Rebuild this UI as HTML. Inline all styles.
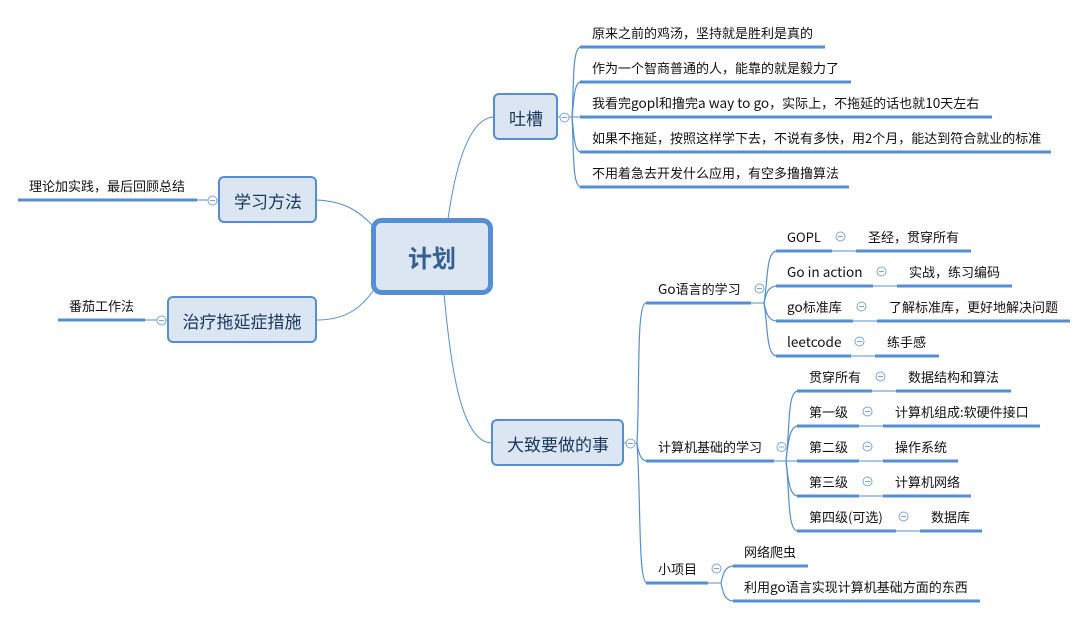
<!DOCTYPE html>
<html lang="zh">
<head>
<meta charset="utf-8">
<title>计划</title>
<style>
html,body{margin:0;padding:0;background:#fff;width:1087px;height:618px;overflow:hidden}
svg{display:block}
text{font-family:"Noto Sans CJK SC","Liberation Sans",sans-serif;font-size:13px;fill:#111}
tspan.a{font-size:13.6px}
.t{fill:#17365d;font-size:17px;text-anchor:middle}
.c{fill:#376092;font-size:24px;font-weight:700;text-anchor:middle}
.b{fill:#dce6f2;stroke:#558ed5;stroke-width:2}
.u{stroke:#558ed5;stroke-width:3;fill:none}
.l{stroke:#558ed5;stroke-width:1;fill:none}
.s{stroke:#558ed5;stroke-width:1.2;fill:none}
.k{fill:#fff;stroke:#7ba5dc;stroke-width:1}
.m{stroke:#7ba5dc;stroke-width:1}
</style>
</head>
<body>
<svg width="1087" height="618" viewBox="0 0 1087 618" xmlns="http://www.w3.org/2000/svg">
<defs>
<g id="k"><circle class="k" r="4.5"/><line class="m" x1="-2.5" x2="2.5" y1="0" y2="0"/></g>
</defs>

<!-- central connectors -->
<path class="l" d="M448 219C455 170 468 118 494 117"/>
<path class="l" d="M373 226C360 212 345 201 316 200"/>
<path class="l" d="M373 291C360 309 345 320 316 320"/>
<path class="l" d="M444 293C450 360 460 443 492 443"/>

<!-- nodes -->
<rect x="373.500" y="220.500" width="117" height="72" rx="8" fill="#dce6f2" stroke="#558ed5" stroke-width="5"/>
<text class="c" x="432" y="267">计划</text>
<rect class="b" x="494" y="94" width="63" height="45" rx="5"/>
<text class="t" x="526" y="125">吐槽</text>
<rect class="b" x="219" y="177" width="97" height="45" rx="5"/>
<text class="t" x="268" y="208">学习方法</text>
<rect class="b" x="168" y="297" width="148" height="45" rx="5"/>
<text class="t" x="242" y="328">治疗拖延症措施</text>
<rect class="b" x="492" y="420" width="131" height="45" rx="5"/>
<text class="t" x="558" y="451">大致要做的事</text>

<!-- 吐槽 branch -->
<path class="l" d="M557 117H580"/>
<path class="s" d="M572 117C574 85 572 47 581 47"/>
<path class="s" d="M572 117C574 100 574 82 581 82"/>
<path class="s" d="M572 117C574 134 574 152 581 152"/>
<path class="s" d="M572 117C574 150 572 187 581 187"/>
<use href="#k" x="564.500" y="117.500"/>
<path class="u" d="M580 47H825M580 82H851M580 117H992M580 152H1051M580 187H849"/>
<text x="592" y="38">原来之前的鸡汤，坚持就是胜利是真的</text>
<text x="592" y="73">作为一个智商普通的人，能靠的就是毅力了</text>
<text x="592" y="108">我看完<tspan class="a">gopl</tspan>和撸完<tspan class="a">a way to go</tspan>，实际上，不拖延的话也就<tspan class="a">10</tspan>天左右</text>
<text x="592" y="143">如果不拖延，按照这样学下去，不说有多快，用2个月，能达到符合就业的标准</text>
<text x="592" y="178">不用着急去开发什么应用，有空多撸撸算法</text>

<!-- left branches -->
<path class="l" d="M197 200H219"/>
<use href="#k" x="212.500" y="200.500"/>
<path class="u" d="M18 200H197"/>
<text x="29" y="191">理论加实践，最后回顾总结</text>
<path class="l" d="M145 320H168"/>
<use href="#k" x="161.500" y="320.500"/>
<path class="u" d="M58 320H145"/>
<text x="69" y="311">番茄工作法</text>

<!-- 大致要做的事 branch -->
<path class="l" d="M623 443H637"/>
<path class="s" d="M637 443C640 390 636 303 646 303"/>
<path class="s" d="M637 443C638 450 640 461 647 461"/>
<path class="s" d="M637 443C641 500 638 583 647 583"/>
<use href="#k" x="630.500" y="443.500"/>
<path class="u" d="M646 303H751M646 461H774M646 583H708"/>
<text x="658" y="294"><tspan class="a">Go</tspan>语言的学习</text>
<text x="658" y="452">计算机基础的学习</text>
<text x="658" y="574">小项目</text>

<!-- Go语言 -->
<path class="l" d="M751 303H765"/>
<path class="s" d="M764 303C768 280 766 251 777 251"/>
<path class="s" d="M764 303C766 294 768 286 777 286"/>
<path class="s" d="M764 303C766 312 768 321 777 321"/>
<path class="s" d="M764 303C768 326 766 356 777 356"/>
<use href="#k" x="759.500" y="288.500"/>
<path class="l" d="M832 251H856M873 286H897M853 321H877M851 356H875"/>
<path class="u" d="M776 251H832M856 251H971M776 286H873M897 286H1012M776 321H853M877 321H1070M776 356H851M875 356H939"/>
<text x="787" y="242">GOPL</text><use href="#k" x="840.500" y="236.500"/><text x="868" y="242">圣经，贯穿所有</text>
<text x="787" y="277"><tspan class="a">Go in action</tspan></text><use href="#k" x="881.500" y="271.500"/><text x="909" y="277">实战，练习编码</text>
<text x="787" y="312"><tspan class="a">go</tspan>标准库</text><use href="#k" x="861.500" y="306.500"/><text x="889" y="312">了解标准库，更好地解决问题</text>
<text x="787" y="347"><tspan class="a">leetcode</tspan></text><use href="#k" x="859.500" y="341.500"/><text x="887" y="347">练手感</text>

<!-- 计算机基础 -->
<path class="l" d="M774 461H797"/>
<path class="s" d="M786 461C790 430 787 391 798 391"/>
<path class="s" d="M786 461C788 445 789 426 798 426"/>
<path class="s" d="M786 461C788 477 789 496 798 496"/>
<path class="s" d="M786 461C790 492 787 531 798 531"/>
<use href="#k" x="781.500" y="447"/>
<path class="l" d="M872 391H896M859 426H883M859 461H883M859 496H883M896 531H920"/>
<path class="u" d="M797 391H872M896 391H1011M797 426H859M883 426H1040M797 461H859M883 461H958M797 496H859M883 496H971M797 531H896M920 531H982"/>
<text x="809" y="382">贯穿所有</text><use href="#k" x="880.500" y="376.500"/><text x="908" y="382">数据结构和算法</text>
<text x="809" y="417">第一级</text><use href="#k" x="867.500" y="411.500"/><text x="895" y="417">计算机组成:软硬件接口</text>
<text x="809" y="452">第二级</text><use href="#k" x="867.500" y="446.500"/><text x="895" y="452">操作系统</text>
<text x="809" y="487">第三级</text><use href="#k" x="867.500" y="481.500"/><text x="895" y="487">计算机网络</text>
<text x="809" y="522">第四级(可选)</text><use href="#k" x="903.500" y="516.500"/><text x="931" y="522">数据库</text>

<!-- 小项目 -->
<path class="l" d="M708 583H721"/>
<path class="s" d="M721 583C723 575 724 566 734 566"/>
<path class="s" d="M721 583C723 592 724 601 734 601"/>
<use href="#k" x="716.500" y="568.500"/>
<path class="u" d="M733 566H808M733 601H980"/>
<text x="744" y="557">网络爬虫</text>
<text x="744" y="592">利用<tspan class="a">go</tspan>语言实现计算机基础方面的东西</text>
</svg>
</body>
</html>
